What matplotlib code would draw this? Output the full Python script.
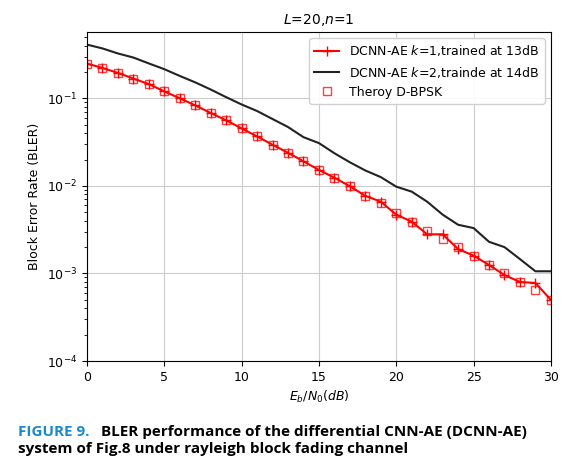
import matplotlib
matplotlib.use('Agg')
import matplotlib.pyplot as plt
import numpy as np

# Eb/N0 in dB
snr_db = list(range(0, 31))

# DCNN-AE k=1, trained at 13dB
bler_k1 = [0.249, 0.222, 0.195, 0.168, 0.145, 0.120, 0.100, 0.083, 0.068, 0.056,
           0.0453, 0.0367, 0.0295, 0.0239, 0.0191, 0.0152, 0.0124, 0.0099, 0.0077, 0.0066,
           0.0047, 0.0039, 0.0028, 0.0028, 0.0019, 0.0016, 0.00125, 0.00096, 0.0008, 0.00078,
           0.0005]

# DCNN-AE k=2, trained at 14dB
bler_k2 = [0.41, 0.371, 0.325, 0.292, 0.25, 0.215, 0.18, 0.152, 0.126, 0.103,
           0.085, 0.0716, 0.058, 0.047, 0.036, 0.0308, 0.0236, 0.0186, 0.015, 0.0126,
           0.0098, 0.0086, 0.0066, 0.0047, 0.0036, 0.0033, 0.0023, 0.002, 0.00146, 0.00106,
           0.00106]

# theory D-BPSK
bler_theory = [0.249, 0.222, 0.195, 0.168, 0.145, 0.120, 0.100, 0.083, 0.068, 0.056,
               0.0453, 0.0367, 0.0295, 0.0239, 0.0191, 0.0152, 0.0124, 0.0099, 0.0077, 0.0063,
               0.0049, 0.0039, 0.00305, 0.00245, 0.0020, 0.0016, 0.00125, 0.0010, 0.00081, 0.00064,
               0.0005]

fig = plt.figure(figsize=(5.65, 4.72), dpi=100)
ax = fig.add_axes([0.154, 0.235, 0.821, 0.697])

ax.semilogy(snr_db, bler_k1, color='red', marker='+', markersize=7, linewidth=1.5,
            label='DCNN-AE $k$=1,trained at 13dB')
ax.semilogy(snr_db, bler_k2, color='#222222', linewidth=1.5,
            label='DCNN-AE $k$=2,trainde at 14dB')
ax.semilogy(snr_db, bler_theory, linestyle='none', marker='s', markersize=6,
            markerfacecolor='none', markeredgecolor='red', alpha=0.75,
            label='Theroy D-BPSK')

ax.set_xlim(0, 30)
ax.set_ylim(1e-4, 0.57)
ax.grid(True, which='major', color='#cccccc')
ax.set_xlabel('$E_b/N_0(dB)$', fontsize=9)
ax.set_ylabel('Block Error Rate (BLER)', fontsize=9)
ax.set_title('$L$=20,$n$=1', fontsize=10)
ax.tick_params(labelsize=9)
ax.legend(loc='upper right', fontsize=9, framealpha=0.9)

# caption below the chart
fig.text(0.032, 0.077, 'FIGURE 9.', color='#1a8ac9', fontsize=11, fontweight='bold',
         family='Open Sans')
fig.text(0.179, 0.077, 'BLER performance of the differential CNN-AE (DCNN-AE)',
         color='black', fontsize=11, fontweight='bold', family='Open Sans')
fig.text(0.032, 0.040, 'system of Fig.8 under rayleigh block fading channel',
         color='black', fontsize=11, fontweight='bold', family='Open Sans')

fig.savefig('out.png', dpi=100)
